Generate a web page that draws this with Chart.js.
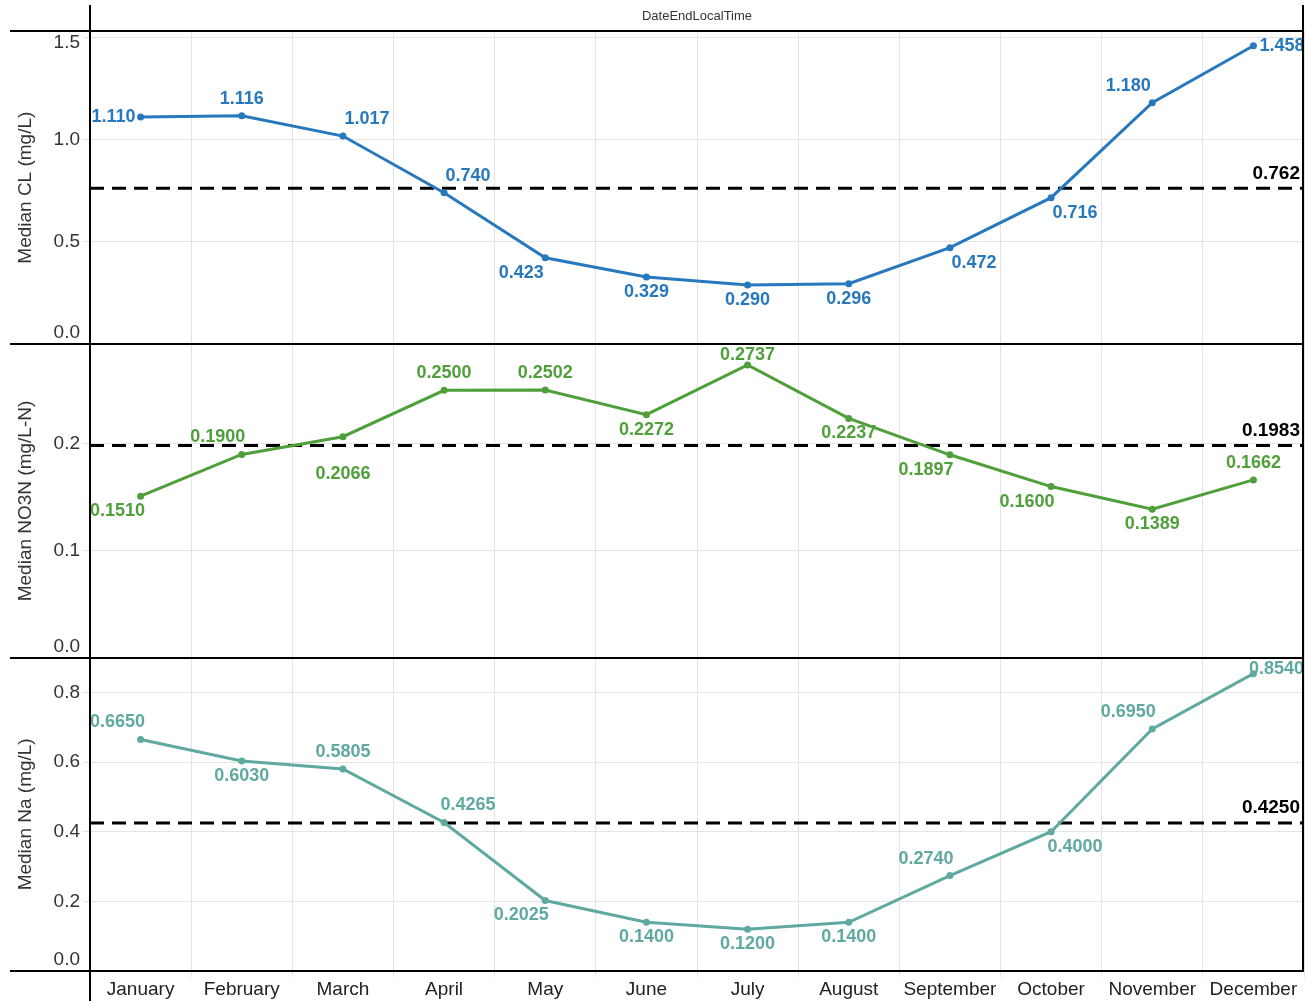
<!DOCTYPE html>
<html><head><meta charset="utf-8">
<script src="https://cdn.jsdelivr.net/npm/chart.js@4.4.1/dist/chart.umd.min.js"></script>
<style>html,body{margin:0;padding:0;background:#fff;}#wrap{width:1308px;height:1001px;position:relative;}</style>
</head><body><div id="wrap"><canvas id="c" width="1308" height="1001"></canvas></div>
<script>
// ---- data ----
const months = ['January','February','March','April','May','June','July','August','September','October','November','December'];
const clValues   = [1.110, 1.116, 1.017, 0.740, 0.423, 0.329, 0.290, 0.296, 0.472, 0.716, 1.180, 1.458];
const no3nValues = [0.1510, 0.1900, 0.2066, 0.2500, 0.2502, 0.2272, 0.2737, 0.2237, 0.1897, 0.1600, 0.1389, 0.1662];
const naValues   = [0.6650, 0.6030, 0.5805, 0.4265, 0.2025, 0.1400, 0.1200, 0.1400, 0.2740, 0.4000, 0.6950, 0.8540];
const clMedian = 0.762;
const no3nMedian = 0.1983;
const naMedian = 0.4250;
const clTicks = [0.0, 0.5, 1.0, 1.5];
const no3nTicks = [0.0, 0.1, 0.2];
const naTicks = [0.0, 0.2, 0.4, 0.6, 0.8];
const axisTitle = 'DateEndLocalTime';

// ---- label placement (style, not data) ----
const clPos   = ['L','A','AR','AR','BL','B','B','B','BR','BR','AL','R'];
const no3nPos = ['BL','AL','BB','A','A','B','A','B','BL','BL','B','A'];
const naPos   = ['AL','B','A','AR','BL','B','B','B','AL','BR','AL','AR'];

const FONT = 'Liberation Sans, Arial, Helvetica, sans-serif';
const BLUE = '#2878bd', GREEN = '#4f9f3a', TEAL = '#5fa9a1';

function yScaleOpts(ticksArr, max, title) {
  return {
    type: 'linear', position: 'left', stack: 'panels', stackWeight: 1,
    min: 0, max: max, offset: false,
    afterBuildTicks: s => { s.ticks = ticksArr.map(v => ({value: v})); },
    afterFit: s => { s.width = 90; },
    border: {display: false},
    grid: {color: '#e4e4e4', lineWidth: 1, tickLength: 7, drawTicks: true},
    ticks: {
      color: '#333', padding: 3, autoSkip: false,
      font: ctx => {
        const sc = ctx.scale;
        let lh = 1.2;
        if (ctx.tick && sc && (sc.max - ctx.tick.value) / (sc.max - sc.min) < 0.03) lh = 0.55;
        return {family: FONT, size: 19, lineHeight: lh};
      },
      callback: function (v) {
        const t = Number(v).toFixed(1);
        const frac = (v - this.min) / (this.max - this.min);
        if (frac < 0.03) return [t, ''];
        if (frac > 0.97) return ['', t];
        return t;
      }
    },
    title: {display: true, text: title, color: '#333', font: {family: FONT, size: 19}, padding: {top: 14, bottom: 0}}
  };
}

const offsets = {
  A: [0, -17, 'center'], B: [0, 15, 'center'], BB: [0, 37, 'center'],
  AR: [24, -17, 'center'], AL: [-24, -17, 'center'],
  BR: [24, 15, 'center'], BL: [-24, 15, 'center'],
  L: [-5, 0, 'right'], R: [6, 0, 'left']
};

const medianLines = {
  id: 'medianLines',
  beforeDatasetsDraw(chart) {
    const ctx = chart.ctx, a = chart.chartArea;
    chart.data.datasets.forEach(ds => {
      const sc = chart.scales[ds.yAxisID];
      const y = sc.getPixelForValue(ds.median);
      ctx.save();
      ctx.strokeStyle = '#000'; ctx.lineWidth = 3; ctx.setLineDash([14, 8]);
      ctx.beginPath(); ctx.moveTo(a.left, y); ctx.lineTo(a.right, y); ctx.stroke();
      ctx.restore();
    });
  },
  afterDatasetsDraw(chart) {
    const ctx = chart.ctx, a = chart.chartArea;
    chart.data.datasets.forEach((ds, i) => {
      const sc = chart.scales[ds.yAxisID];
      const meta = chart.getDatasetMeta(i);
      ctx.save();
      const my = sc.getPixelForValue(ds.median);
      ctx.font = 'bold 19px ' + FONT;
      ctx.fillStyle = '#000'; ctx.textAlign = 'right'; ctx.textBaseline = 'middle';
      ctx.fillText(ds.median.toFixed(ds.decimals), a.right - 4, my - 15);
      ctx.font = 'bold 18px ' + FONT;
      ctx.fillStyle = ds.borderColor; ctx.textBaseline = 'middle';
      meta.data.forEach((pt, j) => {
        const txt = ds.data[j].toFixed(ds.decimals);
        const o = offsets[ds.labelPos[j]];
        let x = pt.x + o[0], y = pt.y + o[1];
        y = Math.max(sc.top + 11, Math.min(sc.bottom - 11, y));
        const w = ctx.measureText(txt).width;
        const align = o[2];
        if (align === 'center') {
          if (x + w / 2 > a.right) x = a.right - w / 2;
          if (x - w / 2 < a.left) x = a.left + w / 2;
        }
        ctx.textAlign = align;
        ctx.fillText(txt, x, y);
      });
      ctx.restore();
    });
  }
};

const frame = {
  id: 'frame',
  afterDraw(chart) {
    const ctx = chart.ctx, a = chart.chartArea;
    const ys = new Set();
    ['yCL', 'yNO3', 'yNa'].forEach(id => { const s = chart.scales[id]; ys.add(Math.round(s.top)); ys.add(Math.round(s.bottom)); });
    ctx.save();
    ctx.strokeStyle = '#000'; ctx.lineWidth = 2;
    ys.forEach(y => { ctx.beginPath(); ctx.moveTo(10, y); ctx.lineTo(a.right, y); ctx.stroke(); });
    ctx.beginPath(); ctx.moveTo(a.left, 5); ctx.lineTo(a.left, chart.height); ctx.stroke();
    ctx.beginPath(); ctx.moveTo(a.right - 1, 5); ctx.lineTo(a.right - 1, a.bottom); ctx.stroke();
    ctx.restore();
  }
};

function series(values, color, axis, median, decimals, pos) {
  return {
    data: values, yAxisID: axis, median: median, decimals: decimals, labelPos: pos,
    borderColor: color, backgroundColor: color, pointBackgroundColor: color,
    borderWidth: 3, pointRadius: 3.5, pointBorderWidth: 0, pointHoverRadius: 3.5, tension: 0, fill: false
  };
}

new Chart(document.getElementById('c'), {
  type: 'line',
  data: {
    labels: months,
    datasets: [
      series(clValues, BLUE, 'yCL', clMedian, 3, clPos),
      series(no3nValues, GREEN, 'yNO3', no3nMedian, 4, no3nPos),
      series(naValues, TEAL, 'yNa', naMedian, 4, naPos)
    ]
  },
  options: {
    responsive: false, animation: false, devicePixelRatio: 1,
    layout: {padding: {left: 0, right: 4, top: 0, bottom: 0}},
    plugins: {
      legend: {display: false}, tooltip: {enabled: false},
      title: {display: true, text: axisTitle, fullSize: false, color: '#333',
        font: {family: FONT, size: 13, weight: 'normal', lineHeight: 1.2}, padding: {top: 9, bottom: 6.4}}
    },
    scales: {
      x: {
        type: 'category', offset: true,
        afterFit: s => { s.height = 30; },
        border: {display: false},
        grid: {color: '#e4e4e4', lineWidth: 1, tickLength: 6, offset: true},
        ticks: {color: '#222', padding: 1, maxRotation: 0, autoSkip: false, font: {family: FONT, size: 19}}
      },
      yNa: yScaleOpts(naTicks, 0.9, 'Median Na (mg/L)'),
      yNO3: yScaleOpts(no3nTicks, 0.293, 'Median NO3N (mg/L-N)'),
      yCL: yScaleOpts(clTicks, 1.53, 'Median CL (mg/L)')
    }
  },
  plugins: [medianLines, frame]
});
</script></body></html>
